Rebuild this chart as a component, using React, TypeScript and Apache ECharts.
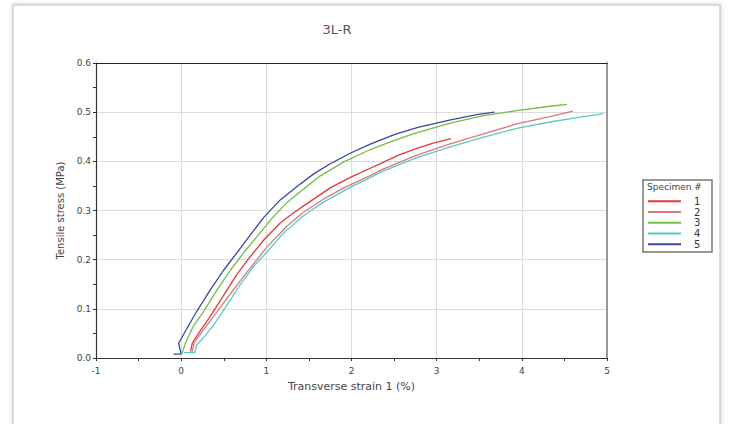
import React, { useEffect, useRef } from "react";
import * as echarts from "echarts";

const title = "3L-R";
const xLabel = "Transverse strain 1 (%)";
const yLabel = "Tensile stress (MPa)";
const specimenNames = ["1", "2", "3", "4", "5"];
const colors = ["#e23a3a", "#d97a7a", "#72c043", "#5cc8c8", "#3a46a4"];

const s1: number[][] = [
  [0.11, 0.013], [0.13, 0.03], [0.22, 0.054], [0.34, 0.084], [0.5, 0.128], [0.65, 0.169],
  [0.81, 0.206], [0.97, 0.24], [1.16, 0.274], [1.3, 0.293], [1.52, 0.319], [1.75, 0.346],
  [1.98, 0.367], [2.22, 0.386], [2.37, 0.398], [2.56, 0.413], [2.76, 0.426], [2.96, 0.437],
  [3.17, 0.446],
];
const s2: number[][] = [
  [0.13, 0.013], [0.15, 0.03], [0.26, 0.057], [0.38, 0.084], [0.54, 0.122], [0.73, 0.165],
  [0.89, 0.2], [1.0, 0.224], [1.24, 0.268], [1.44, 0.297], [1.67, 0.323], [1.91, 0.346],
  [2.22, 0.371], [2.37, 0.384], [2.76, 0.412], [3.15, 0.435], [3.55, 0.456], [3.94, 0.476],
  [4.33, 0.491], [4.6, 0.502],
];
const s3: number[][] = [
  [0.01, 0.009], [0.05, 0.03], [0.14, 0.064], [0.26, 0.094], [0.42, 0.138], [0.58, 0.179],
  [0.73, 0.213], [0.89, 0.247], [1.05, 0.281], [1.24, 0.316], [1.44, 0.344], [1.63, 0.37],
  [1.91, 0.399], [2.22, 0.424], [2.51, 0.443], [2.76, 0.458], [3.15, 0.477], [3.55, 0.493],
  [3.94, 0.503], [4.33, 0.512], [4.53, 0.516],
];
const s4: number[][] = [
  [0.03, 0.011], [0.16, 0.011], [0.18, 0.026], [0.28, 0.045], [0.38, 0.067], [0.54, 0.108],
  [0.69, 0.148], [0.85, 0.186], [1.01, 0.216], [1.2, 0.254], [1.44, 0.29], [1.67, 0.317],
  [1.95, 0.344], [2.22, 0.367], [2.37, 0.38], [2.76, 0.407], [3.15, 0.429], [3.55, 0.449],
  [3.94, 0.467], [4.33, 0.48], [4.72, 0.491], [4.96, 0.497],
];
const s5: number[][] = [
  [-0.09, 0.008], [0.0, 0.008], [-0.03, 0.03], [0.047, 0.054], [0.18, 0.094], [0.34, 0.138],
  [0.5, 0.179], [0.65, 0.213], [0.81, 0.25], [0.97, 0.286], [1.16, 0.321], [1.36, 0.349],
  [1.56, 0.375], [1.75, 0.395], [1.99, 0.417], [2.22, 0.435], [2.51, 0.455], [2.78, 0.469],
  [3.15, 0.484], [3.47, 0.495], [3.68, 0.5],
];
const seriesData = [s1, s2, s3, s4, s5];

const xMin = -1, xMax = 5, xInterval = 1;
const yMin = 0, yMax = 0.6, yInterval = 0.1;

export default function App() {
  const ref = useRef<HTMLDivElement>(null);
  useEffect(() => {
    if (!ref.current) return;
    const chart = echarts.init(ref.current, null, { renderer: "svg" });
    const font = "DejaVu Sans, Verdana, sans-serif";
    chart.setOption({
      animation: false,
      backgroundColor: "#ffffff",
      textStyle: { fontFamily: font },
      title: {
        text: title,
        left: 332,
        top: 18,
        textAlign: "center",
        textStyle: { fontSize: 13, fontWeight: "normal", color: "#555", fontFamily: font },
      },
      graphic: [
        {
          type: "rect",
          z: -10,
          shape: { x: 13, y: 5, width: 707, height: 440 },
          style: {
            fill: "#fff",
            stroke: "#d6d0d4",
            lineWidth: 1.5,
            shadowBlur: 4,
            shadowColor: "rgba(160,140,150,0.5)",
          },
        },
        {
          type: "rect",
          shape: { x: 643, y: 180, width: 69, height: 72 },
          style: { fill: "#fff", stroke: "#777", lineWidth: 1.5 },
          z: 1,
        },
        {
          type: "text",
          x: 647,
          y: 182,
          z: 2,
          style: { text: "Specimen #", fontSize: 9, fill: "#444", fontFamily: font },
        },
      ],
      legend: {
        orient: "vertical",
        left: 648,
        top: 196,
        padding: 0,
        z: 3,
        icon: "rect",
        itemWidth: 33,
        itemHeight: 2,
        itemGap: 0,
        textStyle: {
          fontSize: 10,
          lineHeight: 10.7,
          color: "#333",
          fontFamily: font,
          padding: [0, 0, 0, 8],
        },
        data: specimenNames,
      },
      grid: { left: 96, right: 122, top: 63, bottom: 66 },
      xAxis: [
        {
          type: "value",
          min: xMin,
          max: xMax,
          interval: xInterval,
          name: xLabel,
          nameLocation: "middle",
          nameGap: 23,
          nameTextStyle: { fontSize: 11, color: "#444", fontFamily: font },
          axisLine: { lineStyle: { color: "#333", width: 1.2 } },
          axisTick: { show: true, inside: false, length: 3, lineStyle: { color: "#333" } },
          minorTick: { show: true, splitNumber: 2, length: 3, lineStyle: { color: "#333" } },
          axisLabel: { fontSize: 9, color: "#444", margin: 8, fontFamily: font },
          splitLine: { show: true, lineStyle: { color: "#dcdcdc", width: 1 } },
        },
        {
          type: "value",
          position: "top",
          min: xMin,
          max: xMax,
          interval: xInterval,
          axisLine: { show: true, onZero: false, lineStyle: { color: "#222", width: 1.2 } },
          axisTick: { show: false },
          axisLabel: { show: false },
          splitLine: { show: false },
        },
      ],
      yAxis: [
        {
          type: "value",
          min: yMin,
          max: yMax,
          interval: yInterval,
          name: yLabel,
          nameLocation: "middle",
          nameGap: 28,
          nameTextStyle: { fontSize: 10, color: "#444", fontFamily: font },
          axisLine: { show: true, onZero: false, lineStyle: { color: "#333", width: 1.2 } },
          axisTick: { show: true, length: 3, lineStyle: { color: "#333" } },
          minorTick: { show: true, splitNumber: 2, length: 3, lineStyle: { color: "#333" } },
          axisLabel: {
            fontSize: 9,
            color: "#444",
            margin: 5,
            fontFamily: font,
            formatter: (v: number) => v.toFixed(1),
          },
          splitLine: { show: true, lineStyle: { color: "#dcdcdc", width: 1 } },
        },
        {
          type: "value",
          position: "right",
          min: yMin,
          max: yMax,
          interval: yInterval,
          axisLine: { show: true, onZero: false, lineStyle: { color: "#999", width: 2 } },
          axisTick: { show: false },
          axisLabel: { show: false },
          splitLine: { show: false },
        },
      ],
      series: seriesData.map((d, i) => ({
        name: specimenNames[i],
        type: "line",
        data: d,
        showSymbol: false,
        symbol: "none",
        color: colors[i],
        lineStyle: { color: colors[i], width: 1.3 },
        z: 2 + i,
      })),
    });
    return () => chart.dispose();
  }, []);
  return (
    <div
      ref={ref}
      style={{ position: "absolute", left: 0, top: 0, width: 729, height: 424 }}
    />
  );
}
